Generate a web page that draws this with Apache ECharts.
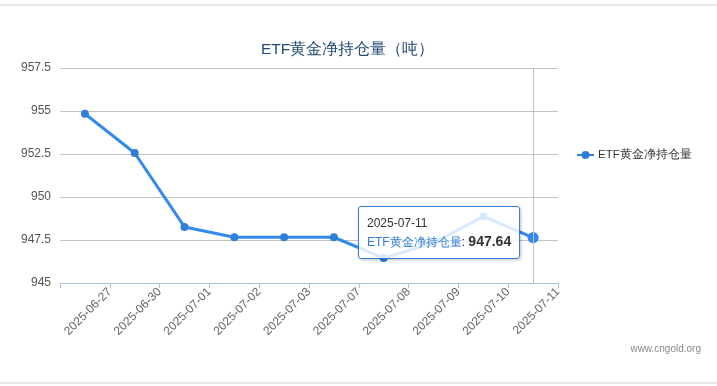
<!DOCTYPE html>
<html>
<head>
<meta charset="utf-8">
<script src="https://cdn.jsdelivr.net/npm/echarts@6/dist/echarts.min.js"></script>
<style>
html,body{margin:0;padding:0;background:#fff;}
#wrap{position:relative;width:717px;height:386px;overflow:hidden;}
#chart{position:absolute;left:0;top:0;width:717px;height:386px;}
.ln{position:absolute;left:0;width:717px;height:2px;background:#e6e6e6;}
</style>
</head>
<body>
<div id="wrap">
<div class="ln" style="top:4px"></div>
<div class="ln" style="top:382px"></div>
<div id="chart"></div>
</div>
<script>
const titleText = 'ETF黄金净持仓量（吨）';
const seriesName = 'ETF黄金净持仓量';
const categories = ['2025-06-27','2025-06-30','2025-07-01','2025-07-02','2025-07-03','2025-07-07','2025-07-08','2025-07-09','2025-07-10','2025-07-11'];
const values = [954.84, 952.56, 948.26, 947.66, 947.66, 947.66, 946.45, 947.33, 948.87, 947.64];
const yTicks = [945, 947.5, 950, 952.5, 955, 957.5];
const watermark = 'www.cngold.org';
const focusIndex = 9;

const lineColor = '#2f7ed8';
const chart = echarts.init(document.getElementById('chart'));
chart.setOption({
  animation: false,
  title: {
    text: titleText,
    left: 256, top: 37,
    textStyle: {color: '#274b73', fontSize: 15.5, fontWeight: 'normal'}
  },
  legend: {
    data: [seriesName],
    orient: 'vertical',
    left: 571, top: 144,
    itemWidth: 17, itemHeight: 10, itemGap: 4,
    textStyle: {color: '#333', fontSize: 11.5, padding: [0, 0, 0, -1]}
  },
  graphic: [{
    type: 'text', right: 16, top: 344,
    style: {text: watermark, fill: '#8a8a8a', fontSize: 10}
  }],
  grid: {left: 60, right: 159, top: 68, bottom: 103},
  tooltip: {
    trigger: 'item',
    alwaysShowContent: true,
    backgroundColor: 'rgba(255,255,255,0.82)',
    borderColor: lineColor,
    borderWidth: 1,
    padding: [7, 8],
    extraCssText: 'box-shadow:1px 1px 3px rgba(0,0,0,0.25);border-radius:3px;',
    textStyle: {color: '#333', fontSize: 12},
    position: function (point, params, dom, rect, size) {
      return [point[0] - size.contentSize[0] - 13, point[1] - 32];
    },
    formatter: function (p) {
      return '<div style="line-height:18px">' + p.name + '<br/><span style="color:' + lineColor + '">' + p.seriesName +
        '</span>: <b style="font-size:14px;color:#333">' + p.value.toFixed(2) + '</b></div>';
    }
  },
  xAxis: [{
    type: 'category',
    data: categories,
    boundaryGap: true,
    axisLine: {show: false},
    axisTick: {show: false},
    axisLabel: {show: false},
    axisPointer: {
      show: true, status: 'show', value: categories[focusIndex], type: 'line',
      triggerTooltip: false,
      label: {show: false},
      lineStyle: {color: '#c0c0c0', width: 1, type: 'solid'}
    }
  }, {
    type: 'category',
    position: 'bottom',
    z: 5,
    data: [''].concat(categories),
    boundaryGap: false,
    axisLine: {show: true, lineStyle: {color: '#a9c0da', width: 1}},
    axisTick: {show: true, length: 5, interval: 0, lineStyle: {color: '#a9c0da'}},
    axisLabel: {interval: 0, rotate: 45, color: '#666', fontSize: 12, margin: 7},
    axisPointer: {show: false}
  }],
  yAxis: {
    type: 'value',
    min: yTicks[0], max: yTicks[yTicks.length - 1], interval: 2.5,
    axisLine: {show: false},
    axisTick: {show: false},
    axisLabel: {color: '#555', fontSize: 12, margin: 9},
    splitLine: {lineStyle: {color: '#c4c4c4'}}
  },
  series: [{
    name: seriesName,
    type: 'line',
    xAxisIndex: 0,
    data: values,
    symbol: 'circle',
    symbolSize: 8,
    itemStyle: {color: lineColor},
    lineStyle: {color: lineColor, width: 3},
    emphasis: {scale: 1.4, focus: 'none', itemStyle: {borderWidth: 0}}
  }]
});
chart.dispatchAction({type: 'highlight', seriesIndex: 0, dataIndex: focusIndex});
chart.dispatchAction({type: 'showTip', seriesIndex: 0, dataIndex: focusIndex});
</script>
</body>
</html>
